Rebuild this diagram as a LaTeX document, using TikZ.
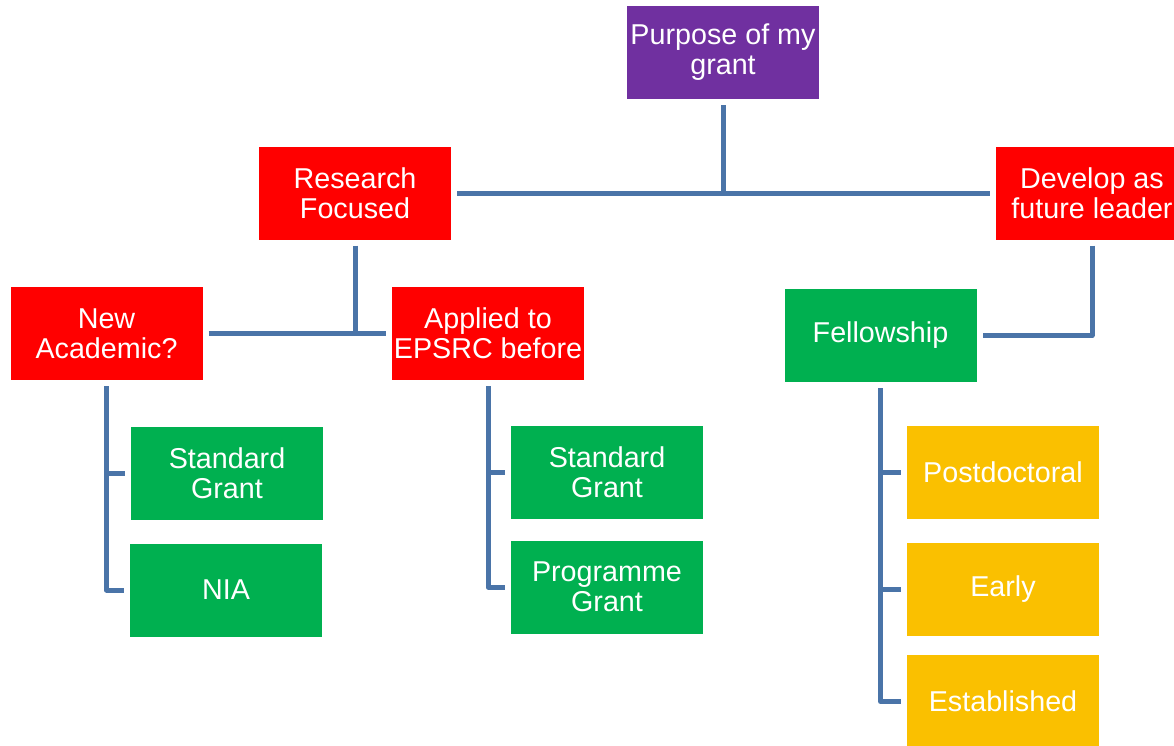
\documentclass[tikz,border=0pt]{standalone}
\usepackage{fontspec}
\setmainfont{Liberation Sans}
\definecolor{cpurple}{HTML}{7030A0}
\definecolor{cred}{HTML}{FF0000}
\definecolor{cgreen}{HTML}{00B050}
\definecolor{cgold}{HTML}{FAC000}
\definecolor{clink}{HTML}{4A74A8}
\begin{document}
\begin{tikzpicture}[x=1pt,y=-1pt,
  box/.style={minimum width=192pt,minimum height=93pt,inner sep=0pt,outer sep=6pt,
    align=center,text=white,font=\fontsize{28.7}{30}\selectfont},
  purplebox/.style={box,fill=cpurple},
  redbox/.style={box,fill=cred},
  greenbox/.style={box,fill=cgreen},
  goldbox/.style={box,fill=cgold},
  link/.style={draw=clink,line width=5pt,line join=round}]
\useasboundingbox (0,0) rectangle (1174,745);

% top level
\node[purplebox] (purpose) at (723,52.5) {Purpose of my\\grant};

% second level
\node[redbox] (research) at (355,193) {Research\\Focused};
\node[redbox] (develop) at (1092,193) {Develop as\\future leader};

% third level
\node[redbox] (newacad) at (106.5,333.5) {New\\Academic?};
\node[redbox] (applied) at (488,333.5) {Applied to\\EPSRC before};
\node[greenbox] (fellow) at (880.5,335.5) {Fellowship};

% grant types
\node[greenbox] (std1) at (227,473.5) {Standard\\Grant};
\node[greenbox] (nia) at (226,590) {NIA};
\node[greenbox] (std2) at (607,472.5) {Standard\\Grant};
\node[greenbox] (prog) at (607,587) {Programme\\Grant};

% fellowship stages
\node[goldbox] (postdoc) at (1003,472.5) {Postdoctoral};
\node[goldbox] (early) at (1003,589) {Early};
\node[goldbox] (estab) at (1003,701.5) {Established};

% connectors
\draw[link] (research.east) -- (develop.west);
\draw[link] (purpose.south) -- (purpose.south |- research.east);
\draw[link] (newacad.east) -- (applied.west);
\draw[link] (research.south) -- (research.south |- newacad.east);
\draw[link] (develop.south) |- (fellow.east);

\draw[link] (newacad.south) |- (std1.west);
\draw[link] (newacad.south) |- (nia.west);
\draw[link] (applied.south) |- (std2.west);
\draw[link] (applied.south) |- (prog.west);
\draw[link] (fellow.south) |- (postdoc.west);
\draw[link] (fellow.south) |- (early.west);
\draw[link] (fellow.south) |- (estab.west);
\end{tikzpicture}
\end{document}
